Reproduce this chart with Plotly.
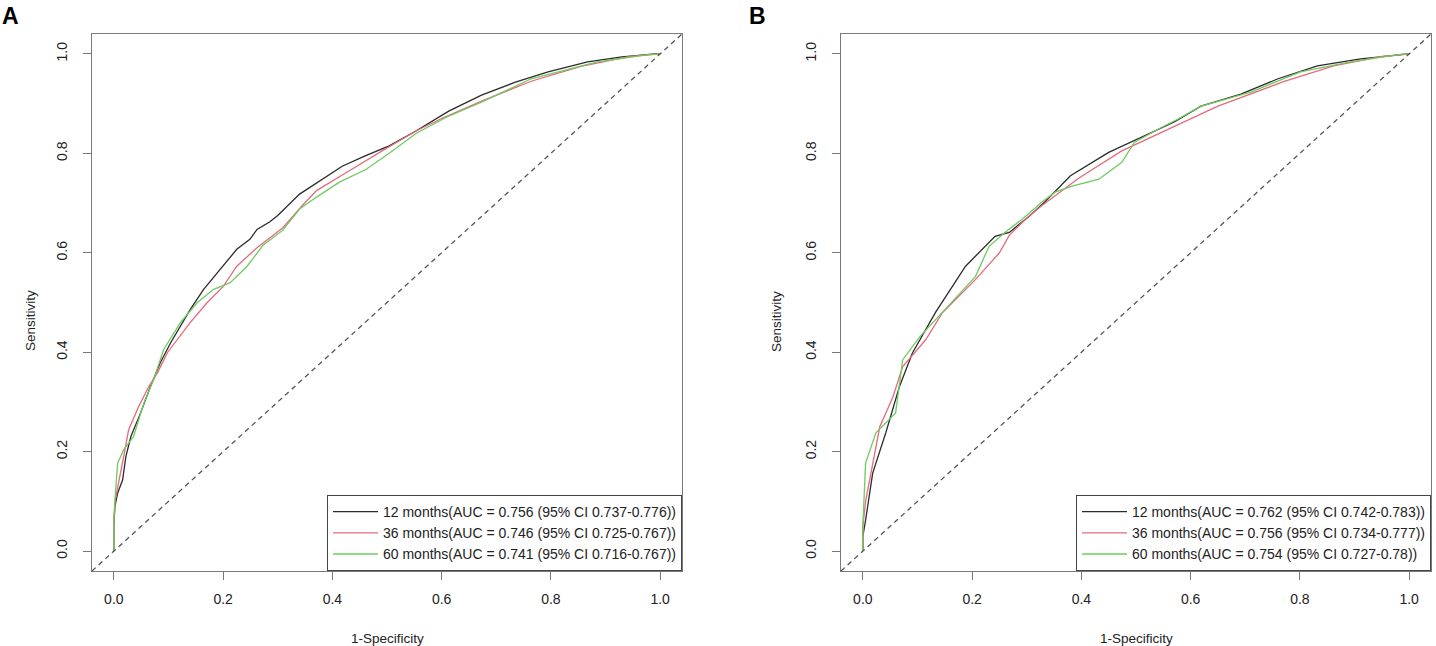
import plotly.graph_objects as go
from plotly.subplots import make_subplots

# ---- data (1-specificity, sensitivity) ----

# panel A
a_12_fpr = [0, 0, 0.002, 0.007, 0.016, 0.022, 0.031, 0.049, 0.067, 0.085, 0.104, 0.122, 0.14, 0.164,
            0.195, 0.225, 0.249, 0.262, 0.285, 0.30, 0.34, 0.382, 0.418, 0.46, 0.504, 0.553, 0.613,
            0.673, 0.735, 0.795, 0.867, 0.93, 0.964, 0.99, 1.0]
a_12_tpr = [0, 0.05, 0.09, 0.117, 0.143, 0.19, 0.23, 0.278, 0.331, 0.379, 0.419, 0.452, 0.486, 0.526,
            0.567, 0.607, 0.627, 0.647, 0.662, 0.675, 0.718, 0.748, 0.774, 0.795, 0.815, 0.845, 0.885,
            0.917, 0.943, 0.964, 0.984, 0.994, 0.998, 1.0, 1.0]

a_36_fpr = [0, 0, 0.002, 0.009, 0.018, 0.027, 0.045, 0.064, 0.08, 0.098, 0.116, 0.14, 0.171, 0.2,
            0.225, 0.262, 0.309, 0.345, 0.371, 0.4, 0.431, 0.491, 0.553, 0.6, 0.673, 0.764, 0.855,
            0.945, 0.99, 1.0]
a_36_tpr = [0, 0.06, 0.1, 0.143, 0.19, 0.244, 0.29, 0.331, 0.359, 0.399, 0.425, 0.46, 0.5, 0.532,
            0.573, 0.61, 0.65, 0.695, 0.725, 0.745, 0.765, 0.805, 0.845, 0.87, 0.905, 0.945, 0.975,
            0.995, 1.0, 1.0]

a_60_fpr = [0, 0, 0.003, 0.007, 0.018, 0.036, 0.055, 0.073, 0.091, 0.122, 0.153, 0.182, 0.213, 0.244,
            0.273, 0.309, 0.34, 0.371, 0.413, 0.462, 0.504, 0.553, 0.613, 0.673, 0.764, 0.885, 0.976, 1.0]
a_60_tpr = [0, 0.06, 0.12, 0.177, 0.204, 0.23, 0.298, 0.345, 0.405, 0.46, 0.5, 0.526, 0.54, 0.573,
            0.615, 0.645, 0.688, 0.712, 0.742, 0.768, 0.80, 0.84, 0.875, 0.903, 0.95, 0.984, 0.998, 1.0]

# panel B
b_12_fpr = [0, 0, 0.005, 0.018, 0.042, 0.067, 0.091, 0.133, 0.188, 0.242, 0.268, 0.304, 0.333, 0.38,
            0.45, 0.515, 0.57, 0.619, 0.692, 0.76, 0.832, 0.911, 0.99, 1.0]
b_12_tpr = [0, 0.03, 0.062, 0.157, 0.238, 0.331, 0.399, 0.48, 0.573, 0.633, 0.641, 0.673, 0.702, 0.755,
            0.802, 0.835, 0.863, 0.895, 0.919, 0.95, 0.976, 0.99, 1.0, 1.0]

b_36_fpr = [0, 0, 0.005, 0.031, 0.055, 0.073, 0.115, 0.146, 0.206, 0.25, 0.268, 0.30, 0.328, 0.395,
            0.474, 0.57, 0.65, 0.77, 0.862, 0.95, 0.99, 1.0]
b_36_tpr = [0, 0.05, 0.1, 0.25, 0.31, 0.371, 0.425, 0.48, 0.546, 0.60, 0.635, 0.67, 0.695, 0.75,
            0.805, 0.855, 0.895, 0.944, 0.976, 0.995, 1.0, 1.0]

b_60_fpr = [0, 0, 0.005, 0.024, 0.06, 0.073, 0.104, 0.146, 0.206, 0.231, 0.26, 0.291, 0.328, 0.352,
            0.383, 0.432, 0.474, 0.497, 0.541, 0.577, 0.619, 0.71, 0.801, 0.893, 0.99, 1.0]
b_60_tpr = [0, 0.05, 0.177, 0.238, 0.278, 0.385, 0.431, 0.48, 0.552, 0.613, 0.641, 0.667, 0.702, 0.722,
            0.734, 0.748, 0.782, 0.822, 0.849, 0.869, 0.895, 0.923, 0.964, 0.984, 1.0, 1.0]

labels_a = ["12 months(AUC = 0.756 (95% CI 0.737-0.776))",
            "36 months(AUC = 0.746 (95% CI 0.725-0.767))",
            "60 months(AUC = 0.741 (95% CI 0.716-0.767))"]
labels_b = ["12 months(AUC = 0.762 (95% CI 0.742-0.783))",
            "36 months(AUC = 0.756 (95% CI 0.734-0.777))",
            "60 months(AUC = 0.754 (95% CI 0.727-0.78))"]

tick_vals = [0.0, 0.2, 0.4, 0.6, 0.8, 1.0]
tick_text = ["0.0", "0.2", "0.4", "0.6", "0.8", "1.0"]

colors = ["#2b2b2b", "#e56a7c", "#6fca60"]
FONT = "Liberation Sans, Arial, Helvetica, sans-serif"

W, H = 1436, 646
dom_a = [92 / W, 682 / W]
dom_b = [841 / W, 1431 / W]
dom_y = [(H - 571) / H, (H - 34) / H]

fig = make_subplots(rows=1, cols=2)

panels = [
    ([a_12_fpr, a_36_fpr, a_60_fpr], [a_12_tpr, a_36_tpr, a_60_tpr], labels_a, "legend"),
    ([b_12_fpr, b_36_fpr, b_60_fpr], [b_12_tpr, b_36_tpr, b_60_tpr], labels_b, "legend2"),
]

for col, (xs, ys, labs, leg) in enumerate(panels, start=1):
    for x, y, lab, c in zip(xs, ys, labs, colors):
        fig.add_trace(
            go.Scatter(x=x, y=y, mode="lines", name=lab, legend=leg,
                       line=dict(color=c, width=1.3)),
            row=1, col=col,
        )
    # y = x reference line across the whole plotting box
    xref = "x domain" if col == 1 else "x2 domain"
    yref = "y domain" if col == 1 else "y2 domain"
    fig.add_shape(type="line", xref=xref, yref=yref, x0=0, y0=0, x1=1, y1=1,
                  line=dict(color="#555555", width=1.3, dash="5px,4px"))

axis_style = dict(
    range=[-0.04, 1.04],
    tickvals=tick_vals,
    ticktext=tick_text,
    ticks="outside",
    ticklen=8,
    tickcolor="#777777",
    showline=True,
    mirror=True,
    linecolor="#7a7a7a",
    linewidth=1.3,
    showgrid=False,
    zeroline=False,
    tickfont=dict(family=FONT, size=14, color="#222222"),
    automargin=False,
)

fig.update_xaxes(**axis_style, ticklabelstandoff=7)
fig.update_yaxes(**axis_style, tickangle=-90, ticklabelstandoff=10)
fig.update_layout(
    xaxis=dict(domain=dom_a),
    xaxis2=dict(domain=dom_b),
    yaxis=dict(domain=dom_y),
    yaxis2=dict(domain=dom_y),
)

legend_style = dict(
    xanchor="right", yanchor="bottom", y=dom_y[0],
    bgcolor="white", bordercolor="#444444", borderwidth=1,
    font=dict(family=FONT, size=14, color="#222222"),
    tracegroupgap=0, itemwidth=45,
)
fig.update_layout(
    legend=dict(x=dom_a[1], **legend_style),
    legend2=dict(x=dom_b[1], **legend_style),
)

title_font = dict(family=FONT, size=13.5, color="#222222")
ann = []
for dom, letter, ylab_x, let_x in [(dom_a, "A", 30 / W, 10 / W), (dom_b, "B", 776 / W, 757 / W)]:
    ann.append(dict(text="1-Specificity", x=(dom[0] + dom[1]) / 2, y=(H - 638) / H,
                    xref="paper", yref="paper", showarrow=False, font=title_font,
                    xanchor="center", yanchor="middle"))
    ann.append(dict(text="Sensitivity", x=ylab_x, y=(H - 321) / H, textangle=-90,
                    xref="paper", yref="paper", showarrow=False, font=title_font,
                    xanchor="center", yanchor="middle"))
    ann.append(dict(text="<b>" + letter + "</b>", x=let_x, y=(H - 16) / H,
                    xref="paper", yref="paper", showarrow=False,
                    xanchor="center", yanchor="middle",
                    font=dict(family=FONT, size=23, color="black")))
fig.update_layout(annotations=ann)

fig.update_layout(
    width=W, height=H,
    margin=dict(l=0, r=0, t=0, b=0),
    paper_bgcolor="white",
    plot_bgcolor="white",
    showlegend=True,
)

# page body has an 8px default margin; drop it so the figure sits at the top-left corner
fig.write_html("out.html", config={"displayModeBar": False},
               post_script="document.body.style.margin='0px';")
